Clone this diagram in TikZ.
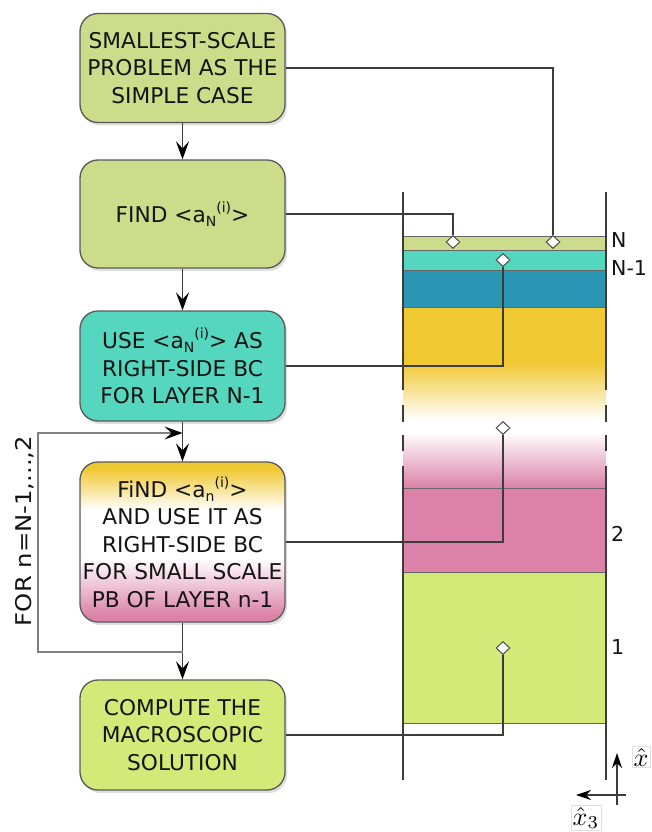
\documentclass[tikz,border=0pt]{standalone}
\usepackage{fontspec}
\setmainfont{DejaVu Sans}
\usetikzlibrary{shapes.geometric,arrows.meta,shadows}

\definecolor{cOlive}{HTML}{CDDC8A}
\definecolor{cTeal}{HTML}{55D6BE}
\definecolor{cBlue}{HTML}{2A96B4}
\definecolor{cGold}{HTML}{F0C832}
\definecolor{cRose}{HTML}{DC82A8}
\definecolor{cLime}{HTML}{D3EA78}
\definecolor{cInk}{HTML}{141414}
\definecolor{cWire}{HTML}{3C3C3C}

% yellow -> white -> pink fill for the loop body
\pgfdeclareverticalshading{boxfade}{100bp}{color(0bp)=(cRose); color(27bp)=(cRose); color(45bp)=(white); color(60bp)=(white); color(73bp)=(cGold); color(100bp)=(cGold)}

\newcommand\boxfont{\fontsize{21.7}{27.5}\selectfont}
\newcommand\smallidx{\fontsize{14}{14}\selectfont}
\newcommand\avg[1]{<a\raisebox{-0.35ex}{\smallidx #1}\raisebox{0.85ex}{\smallidx (i)}>}

\begin{document}
\begin{tikzpicture}[x=1pt,y=-1pt,
  box/.style={draw=black!65, line width=1.3pt, rounded corners=18pt,
    minimum width=205pt, align=center, text=cInk, font=\boxfont, inner sep=0pt,
    drop shadow={opacity=0.25, shadow xshift=2pt, shadow yshift=-3pt}},
  tip/.style={-{Stealth[length=18pt,width=13pt,inset=7pt,color=black]}},
  flow/.style={draw=cWire, line width=1.2pt, tip},
  loopline/.style={draw=black!50, line width=1.2pt, tip},
  conn/.style={draw=cWire, line width=1.1pt},
  layer/.style={draw=black!60, line width=0.8pt},
  colline/.style={draw=cWire, line width=1.2pt},
  dmd/.style={diamond, draw=black!70, fill=white, line width=1pt,
    minimum width=14pt, minimum height=13pt, inner sep=0pt},
  lbl/.style={anchor=west, font=\fontsize{20.5}{20.5}\selectfont, text=cInk, inner sep=0pt},
  axarr/.style={draw=cWire, line width=1.2pt, -{Stealth[length=15pt,width=10pt,inset=5pt,color=black]}},
  axlbl/.style={draw=black!12, inner sep=1.5pt}]
\useasboundingbox (0,0) rectangle (651,832);

% ---- layered column ----
\filldraw[layer, fill=cOlive] (403,236) rectangle (606,250);
\filldraw[layer, fill=cTeal]  (403,250) rectangle (606,270);
\filldraw[layer, fill=cBlue]  (403,270) rectangle (606,307);
\filldraw[layer, fill=cGold]  (403,307) rectangle (606,362);
\shade[top color=cGold, bottom color=white] (403,362.4) rectangle (606,420);
\shade[top color=white, bottom color=cRose] (403,432) rectangle (606,487.6);
\filldraw[layer, fill=cRose]  (403,488) rectangle (606,572);
\filldraw[layer, fill=cLime]  (403,572) rectangle (606,723);

% side walls, broken where the stack is left out
\foreach \xx in {403,606}{
  \draw[colline] (\xx,192) -- (\xx,390);
  \draw[colline] (\xx,405) -- (\xx,422);
  \draw[colline] (\xx,435) -- (\xx,451);
  \draw[colline] (\xx,466) -- (\xx,780);
}

% layer labels
\node[lbl] (lN)  at (611,240) {N};
\node[lbl] (lN1) at (611,268) {N-1};
\node[lbl] (l2)  at (611,534) {2};
\node[lbl] (l1)  at (611,647) {1};

% probe points
\node[dmd] (d1) at (553,242) {};
\node[dmd] (d2) at (453,242) {};
\node[dmd] (d3) at (503,260) {};
\node[dmd] (d4) at (503,428) {};
\node[dmd] (d5) at (503,648) {};

% ---- flow chart ----
\node[box, fill=cOlive, minimum height=109pt] (b1) at (182.5,68)
  {SMALLEST-SCALE\\PROBLEM AS THE\\SIMPLE CASE};
\node[box, fill=cOlive, minimum height=108pt] (b2) at (182.5,214)
  {FIND \avg{N}};
\node[box, fill=cTeal, minimum height=110pt] (b3) at (182.5,366)
  {USE \avg{N} AS\\RIGHT-SIDE BC\\FOR LAYER N-1};
\node[box, shading=boxfade, minimum height=160pt] (b4) at (182.5,542)
  {FiND \avg{n}\\AND USE IT AS\\RIGHT-SIDE BC\\FOR SMALL SCALE\\PB OF LAYER n-1};
\node[box, fill=cLime, minimum height=110pt] (b5) at (182.5,735)
  {COMPUTE THE\\MACROSCOPIC\\SOLUTION};

\draw[flow] (b1.south) -- (b2.north);
\draw[flow] (b2.south) -- (b3.north);
\draw[flow] (b3.south) -- (b4.north);
\draw[flow] (b4.south) -- (b5.north);

% iteration loop
\coordinate (jin)  at (182.5,433);
\coordinate (jout) at (182.5,652);
\coordinate (cbot) at (38,652);
\coordinate (ctop) at (38,433);
\draw[loopline] (jout) -- (cbot) -- (ctop) -- (jin);
\node[rotate=90, font=\boxfont, text=cInk, inner sep=0pt] (forlbl) at (25,531)
  {\scalebox{1.12}[1]{FOR n=N-1,...,2}};

% links from the steps to the layers
\draw[conn] (b1.east) -| (d1.north);
\draw[conn] (b2.east) -| (d2.north);
\draw[conn] (b3.east) -| (d3.south);
\draw[conn] (b4.east) -| (d4.south);
\draw[conn] (b5.east) -| (d5.south);

% axes
\coordinate (ay0) at (617,805);
\coordinate (ay1) at (617,753);
\coordinate (ax0) at (626,795);
\coordinate (ax1) at (576,795);
\draw[axarr] (ay0) -- (ay1);
\draw[axarr] (ax0) -- (ax1);
\node[axlbl] (xh)  at (641,757) {\scalebox{2.6}{$\hat{x}$}};
\node[axlbl] (x3h) at (586,818) {\scalebox{2.6}{$\hat{x}_3$}};
\end{tikzpicture}
\end{document}
